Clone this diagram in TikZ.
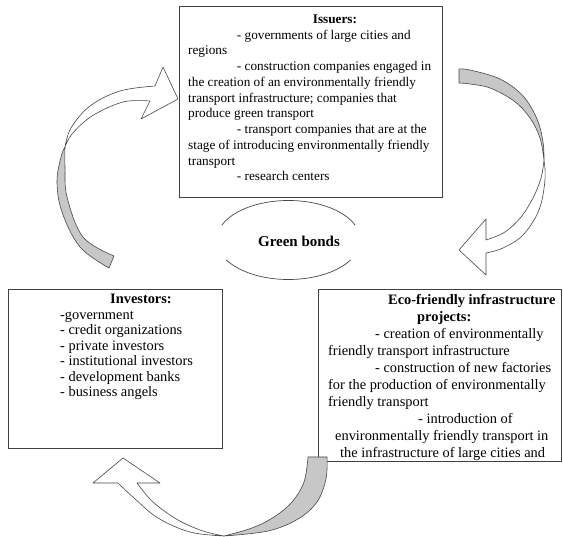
\documentclass[tikz,border=0pt]{standalone}
\usepackage{fontspec}
\setmainfont{Liberation Serif}
\begin{document}
\begin{tikzpicture}[x=1pt,y=-1pt,
  box/.style={draw=black!75, line width=0.7pt, fill=white, inner sep=0pt},
  arrgray/.style={draw=black!72, line width=0.6pt, fill=black!22, line join=round},
  arrwhite/.style={draw=black!72, line width=0.6pt, fill=white, line join=round},
  txt/.style={anchor=north west, align=left, inner sep=0pt, text=black},
  ellline/.style={draw=black!72, line width=0.7pt},
]
\useasboundingbox (0,0) rectangle (563,537);
% boxes
\node[box, minimum width=263pt, minimum height=191pt] (iss) at (310.5,101.5) {};
\node[box, minimum width=214pt, minimum height=159pt] (inv) at (115,368.5) {};
\node[box, minimum width=243.5pt, minimum height=172.5pt] (eco) at (439.75,375.25) {};
% texts
\node[txt, font=\fontsize{13.25pt}{15.75pt}\selectfont] (isst) at (188,14.5) {%
\hspace*{124.7pt}\textbf{Issuers:}\\
\hspace*{48.7pt}- governments of large cities and\\
regions\\
\hspace*{48.7pt}- construction companies engaged in\\
the creation of an environmentally friendly\\
transport infrastructure; companies that\\
produce green transport\\
\hspace*{48.7pt}- transport companies that are at the\\
stage of introducing environmentally friendly\\
transport\\
\hspace*{48.7pt}- research centers};
\node[txt, font=\fontsize{14.4pt}{15.5pt}\selectfont] (invt) at (60,294.3) {%
\hspace*{50pt}\textbf{Investors:}\\
-government\\
- credit organizations\\
- private investors\\
- institutional investors\\
- development banks\\
- business angels};
\node[txt, font=\fontsize{14.4pt}{17pt}\selectfont] (ecot) at (328,294) {%
\hspace*{60pt}\textbf{Eco-friendly infrastructure}\\
\hspace*{89pt}\textbf{projects:}\\
\hspace*{47pt}- creation of environmentally\\
friendly transport infrastructure\\
\hspace*{47pt}- construction of new factories\\
for the production of environmentally\\
friendly transport\\
\hspace*{90pt}- introduction of\\
\hspace*{7pt}environmentally friendly transport in\\
\hspace*{12pt}the infrastructure of large cities and};
% green bonds
\coordinate (ec) at (288.5,240);
\node[font=\bfseries\fontsize{15pt}{18pt}\selectfont, inner sep=0pt] (gb) at (299,241) {Green bonds};
\draw[ellline] (221.74,225.2) arc[start angle=202, end angle=338, x radius=72, y radius=39.5];
\draw[ellline] (350.6,260) arc[start angle=30.4, end angle=149.6, x radius=72, y radius=39.5];
% left arrow
\path[arrgray] (114,256) -- (109,268) -- plot[smooth,tension=0.6] coordinates {(109,268) (80,247) (62,212) (57,182) (61,157) (65,147)} -- plot[smooth,tension=0.6] coordinates {(65,147) (65,167) (67,197) (83,237) (114,256)} -- cycle;
\path[arrwhite] (65,147) -- plot[smooth,tension=0.6] coordinates {(65,147) (71,128) (90,106) (120,91) (155,86)} -- (163,67) -- (178,99) -- (141,119) -- (150,101) -- plot[smooth,tension=0.6] coordinates {(150,101) (123,102) (92,116) (72,134) (65,147)} -- cycle;
% right arrow
\path[arrgray] (459,83) -- (459,69) -- plot[smooth,tension=0.6] coordinates {(459,69) (470,70) (500,79) (523,96) (537,119) (543,142) (544,160)} -- plot[smooth,tension=0.6] coordinates {(544,160) (540,138) (530,118) (514,101) (490,88) (470,84) (459,83)} -- cycle;
\path[arrwhite] (544,160) -- plot[smooth,tension=0.6] coordinates {(544,160) (545,180) (539,210) (523,235) (503,248) (486,253)} -- (486,275) -- (459,250) -- (486,219) -- (486,240) -- plot[smooth,tension=0.6] coordinates {(486,240) (505,232) (521,217) (533,198) (541,178) (544,160)} -- cycle;
% lower arrow
\path[arrgray] (308,457) -- (327,457) -- plot[smooth,tension=0.6] coordinates {(327,457) (326,479) (317,502) (298,519) (268,531) (224,536)} -- plot[smooth,tension=0.6] coordinates {(224,536) (252,528) (274,517) (292,502) (304,482) (308,457)} -- cycle;
\path[arrwhite] (224,536) -- plot[smooth,tension=0.6] coordinates {(224,536) (190,532) (158,518) (134,498) (118,483)} -- (93,483) -- (123,458) -- (160,483) -- (137,483) -- plot[smooth,tension=0.6] coordinates {(137,483) (153,502) (178,520) (203,531) (224,536)} -- cycle;
\end{tikzpicture}
\end{document}
